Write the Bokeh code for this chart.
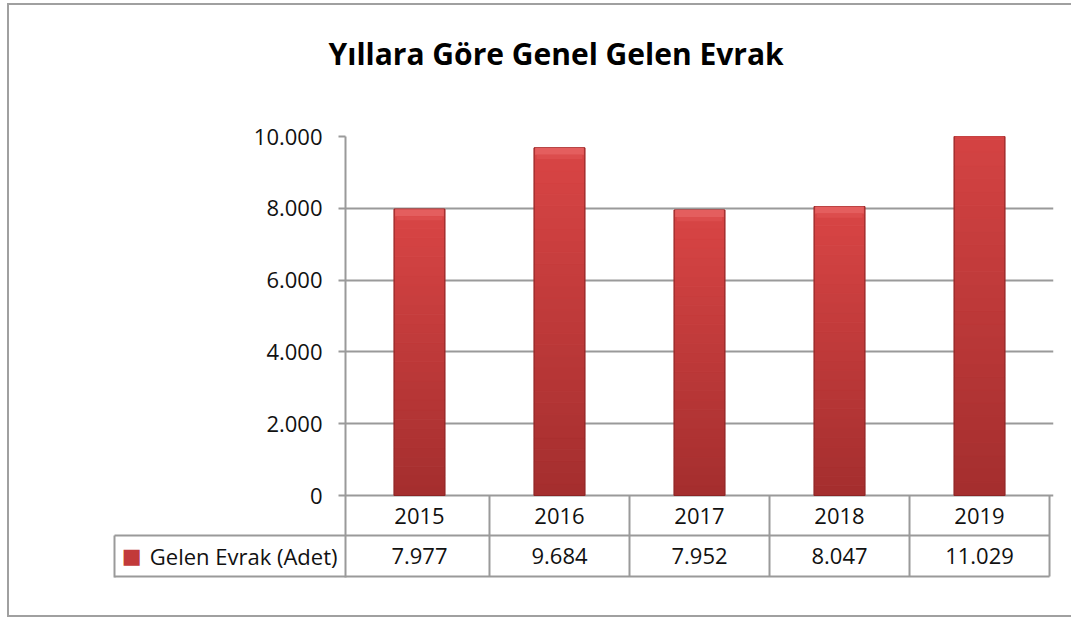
from bokeh.plotting import figure
from bokeh.models import (FactorRange, Range1d, FixedTicker, LinearAxis, ColumnDataSource, Title)
from bokeh.embed import file_html
from bokeh.resources import INLINE

# ---- data ----
title_text = "Yıllara Göre Genel Gelen Evrak"
series_name = "Gelen Evrak (Adet)"
years = ["2015", "2016", "2017", "2018", "2019"]
values = [7977, 9684, 7952, 8047, 11029]
y_ticks = [0, 2000, 4000, 6000, 8000, 10000]
y_tick_labels = ["0", "2.000", "4.000", "6.000", "8.000", "10.000"]

# ---- layout helpers (page pixels -> data units) ----
W, H = 1075, 617
CAT_L, CAT_R = 347, 1051              # page px of the category band
PAD = 2                               # px padding each side of category band
FRAME_L = CAT_L - PAD
Y_TOP_PX, Y_ZERO_PX = 136, 495        # page px for 10000 and 0
FRAME_B = 578
YMAX = 10000
ppu = (Y_ZERO_PX - Y_TOP_PX) / YMAX
cat_w = (CAT_R - CAT_L) / len(years)


def ya(py):
    return (Y_ZERO_PX - py) / ppu


GRID = "#9a9a9a"
BORDER = "#a0a0a0"
FONT = "Open Sans"
TXT = "#111111"
FS = "22px"

p = figure(width=W, height=H, output_backend="svg", toolbar_location=None,
           x_range=FactorRange(factors=years, range_padding=2 * PAD / cat_w,
                               range_padding_units="absolute"),
           y_range=Range1d(ya(FRAME_B), YMAX),
           x_axis_location=None,
           min_border_left=FRAME_L, min_border_right=W - (CAT_R + PAD),
           min_border_top=Y_TOP_PX, min_border_bottom=H - FRAME_B)
p.outline_line_color = None
p.background_fill_color = "white"
p.border_fill_color = None
# outer chart border (left, top, bottom edges), painted behind the transparent canvas
g = f"linear-gradient({BORDER},{BORDER})"
p.styles = {"background": f"{g} 7px 3px / 2px {H - 4}px no-repeat, "
                          f"{g} 7px 3px / {W}px 2px no-repeat, "
                          f"{g} 7px {H - 2}px / {W}px 2px no-repeat, #ffffff",
            "clip-path": "inset(0px 4px 0px 0px)"}

# title, kept clear of the plot by a blank spacer title below it
p.title.text = title_text
p.title.text_font = FONT
p.title.text_font_size = "30px"
p.title.text_font_style = "bold"
p.title.text_color = "#000000"
p.title.align = "left"
p.title.offset = -17
p.title.standoff = 0
p.title.vertical_align = "bottom"
p.add_layout(Title(text=" ", text_font_size="1px", standoff=60), "above")

# y axis (its long minor ticks draw the horizontal rules of the table's name cell)
CELL_L = 114
ax = p.yaxis[0]
ax.ticker = FixedTicker(ticks=y_ticks, minor_ticks=[ya(535), ya(576)])
ax.major_label_overrides = {t: l for t, l in zip(y_ticks, y_tick_labels)}
ax.bounds = (ya(576.5), YMAX)
ax.axis_line_color = GRID
ax.axis_line_width = 2
ax.major_tick_line_color = GRID
ax.major_tick_line_width = 2
ax.major_tick_out = 7
ax.major_tick_in = 0
ax.minor_tick_line_color = GRID
ax.minor_tick_line_width = 2
ax.minor_tick_out = FRAME_L - CELL_L
ax.minor_tick_in = 0
ax.major_label_standoff = 16 - (FRAME_L - CELL_L - 7)
ax.major_label_text_font = FONT
ax.major_label_text_font_size = FS
ax.major_label_text_color = TXT

# second left axis: series name of the data table
row2 = ya(555.5)
AX1_W = 92
ax2 = LinearAxis(ticker=FixedTicker(ticks=[row2], minor_ticks=[]),
                 major_label_overrides={row2: series_name},
                 axis_line_color=None, major_tick_line_color=None, minor_tick_line_color=None,
                 major_tick_out=0, major_tick_in=0,
                 major_label_standoff=-(340 - (FRAME_L - AX1_W)),
                 major_label_text_font=FONT, major_label_text_font_size=FS,
                 major_label_text_color=TXT)
p.add_layout(ax2, "left")

# third left axis: legend key square
ax3 = LinearAxis(ticker=FixedTicker(ticks=[row2], minor_ticks=[]),
                 major_label_overrides={row2: "\u2009■"},
                 axis_line_color=None, major_tick_line_color=None, minor_tick_line_color=None,
                 major_tick_out=0, major_tick_in=0,
                 major_label_standoff=5,
                 major_label_text_font="DejaVu Sans", major_label_text_font_size="21px",
                 major_label_text_color="#c23a3a")
p.add_layout(ax3, "left")

# fourth left axis: only its line, the left edge of the name cell
ax4 = LinearAxis(ticker=FixedTicker(ticks=[], minor_ticks=[]),
                 bounds=(ya(576.5), ya(534.5)),
                 axis_line_color=GRID, axis_line_width=2,
                 major_tick_line_color=None, minor_tick_line_color=None,
                 major_tick_out=0, major_tick_in=0, minor_tick_out=0, minor_tick_in=0,
                 major_label_text_font_size="0px")
p.add_layout(ax4, "left")

p.xgrid.visible = False
p.ygrid.ticker = FixedTicker(ticks=y_ticks)
p.ygrid.grid_line_color = GRID
p.ygrid.grid_line_width = 2

# ---- bars with vertical gradient ----
N = 30
def mix(c1, c2, t):
    a = [int(c1[i:i + 2], 16) for i in (1, 3, 5)]
    b = [int(c2[i:i + 2], 16) for i in (1, 3, 5)]
    return "#%02x%02x%02x" % tuple(round(a[k] + (b[k] - a[k]) * t) for k in range(3))

BOT, TOPC = "#a42e2e", "#d94545"
bx, bb, bt, bc = [], [], [], []
for yr, v in zip(years, values):
    for k in range(N):
        bx.append(yr)
        bb.append(v * k / N)
        bt.append(v * (k + 1) / N)
        bc.append(mix(BOT, TOPC, (k + 0.5) / N))
bar_w = 51 / cat_w
p.vbar(x=bx, bottom=bb, top=bt, width=bar_w, fill_color=bc, line_color=bc, line_width=1)
p.vbar(x=years, top=values, bottom=0, width=bar_w, fill_color=None,
       line_color="#8c2424", line_width=1)
bev = 7 / ppu
p.vbar(x=years, top=values, bottom=[v - bev for v in values], width=bar_w * 0.96,
       fill_color="#e45e5e", line_color=None)
p.vbar(x=years, top=[v - bev for v in values], bottom=[v - bev * 1.6 for v in values],
       width=bar_w * 0.9, fill_color="#dc4d4d", line_color=None)

# ---- data table under the plot ----
n = len(years)
r_top, r_mid, r_bot = 0, ya(535), ya(576)
p.segment(x0=[-1, -1], x1=[n, n], y0=[r_mid, r_bot], y1=[r_mid, r_bot],
          line_color=GRID, line_width=2)
p.segment(x0=list(range(1, n + 1)), x1=list(range(1, n + 1)),
          y0=[r_bot] * n, y1=[r_top] * n, line_color=GRID, line_width=2)
src = ColumnDataSource(dict(x=years, yy=[(r_top + r_mid) / 2] * n, yv=[(r_mid + r_bot) / 2] * n,
                            lab=years, val=[f"{v:,}".replace(",", ".") for v in values]))
p.text(x="x", y="yy", text="lab", source=src, text_align="center", text_baseline="middle",
       text_font={"value": FONT}, text_font_size=FS, text_color=TXT)
p.text(x="x", y="yv", text="val", source=src, text_align="center", text_baseline="middle",
       text_font={"value": FONT}, text_font_size=FS, text_color=TXT)

open("out.html", "w").write(file_html(p, INLINE))
